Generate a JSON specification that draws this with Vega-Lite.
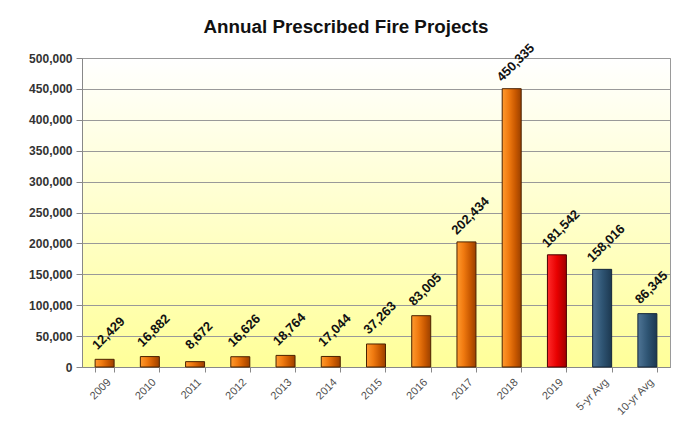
{
  "$schema": "https://vega.github.io/schema/vega-lite/v6.json",
  "width": 588,
  "height": 309,
  "autosize": {"type": "none"},
  "padding": {"left": 82, "top": 58, "right": 11, "bottom": 65},
  "background": "white",
  "title": {
    "text": "Annual Prescribed Fire Projects",
    "font": "Liberation Sans",
    "fontSize": 18.8,
    "fontWeight": "bold",
    "color": "#111111",
    "anchor": "middle",
    "dx": -30,
    "offset": 5
  },
  "config": {
    "view": {
      "stroke": "#9a9a9a",
      "strokeWidth": 1,
      "fill": {
        "gradient": "linear",
        "x1": 0, "y1": 0, "x2": 0, "y2": 1,
        "stops": [
          {"offset": 0, "color": "#ffffff"},
          {"offset": 1, "color": "#ffff99"}
        ]
      }
    },
    "font": "Liberation Sans"
  },
  "data": {
    "values": [
      {"cat": "2009", "acres": 12429, "kind": "year"},
      {"cat": "2010", "acres": 16882, "kind": "year"},
      {"cat": "2011", "acres": 8672, "kind": "year"},
      {"cat": "2012", "acres": 16626, "kind": "year"},
      {"cat": "2013", "acres": 18764, "kind": "year"},
      {"cat": "2014", "acres": 17044, "kind": "year"},
      {"cat": "2015", "acres": 37263, "kind": "year"},
      {"cat": "2016", "acres": 83005, "kind": "year"},
      {"cat": "2017", "acres": 202434, "kind": "year"},
      {"cat": "2018", "acres": 450335, "kind": "year"},
      {"cat": "2019", "acres": 181542, "kind": "current"},
      {"cat": "5-yr Avg", "acres": 158016, "kind": "avg"},
      {"cat": "10-yr Avg", "acres": 86345, "kind": "avg"}
    ]
  },
  "encoding": {
    "x": {
      "field": "cat",
      "type": "nominal",
      "sort": null,
      "title": null,
      "scale": {"paddingInner": 0.58, "paddingOuter": 0.29},
      "axis": {
        "labelAngle": -45,
        "labelAlign": "right",
        "labelBaseline": "top",
        "labelFontSize": 11,
        "labelColor": "#505050",
        "labelPadding": 4,
        "tickBand": "extent",
        "tickSize": 5,
        "tickColor": "#888888",
        "domainColor": "#888888"
      }
    },
    "y": {
      "field": "acres",
      "type": "quantitative",
      "title": null,
      "scale": {"domain": [0, 500000], "nice": false},
      "axis": {
        "values": [0, 50000, 100000, 150000, 200000, 250000, 300000, 350000, 400000, 450000, 500000],
        "format": ",d",
        "labelFontSize": 12,
        "labelFontWeight": "bold",
        "labelColor": "#333333",
        "labelPadding": 4,
        "tickSize": 6,
        "tickColor": "#888888",
        "domainColor": "#888888",
        "gridColor": "#999999",
        "gridOpacity": 1
      }
    }
  },
  "layer": [
    {
      "transform": [{"filter": "datum.kind === 'year'"}],
      "mark": {
        "type": "bar",
        "stroke": "#4a2200",
        "strokeWidth": 1,
        "color": {
          "gradient": "linear",
          "x1": 0, "y1": 0, "x2": 1, "y2": 0,
          "stops": [
            {"offset": 0, "color": "#ff9a2e"},
            {"offset": 0.35, "color": "#f07a10"},
            {"offset": 0.7, "color": "#c85800"},
            {"offset": 1, "color": "#9a4000"}
          ]
        }
      }
    },
    {
      "transform": [{"filter": "datum.kind === 'current'"}],
      "mark": {
        "type": "bar",
        "stroke": "#4a0000",
        "strokeWidth": 1,
        "color": {
          "gradient": "linear",
          "x1": 0, "y1": 0, "x2": 1, "y2": 0,
          "stops": [
            {"offset": 0, "color": "#ff2a2a"},
            {"offset": 0.5, "color": "#e80000"},
            {"offset": 1, "color": "#a00000"}
          ]
        }
      }
    },
    {
      "transform": [{"filter": "datum.kind === 'avg'"}],
      "mark": {
        "type": "bar",
        "stroke": "#14263a",
        "strokeWidth": 1,
        "color": {
          "gradient": "linear",
          "x1": 0, "y1": 0, "x2": 1, "y2": 0,
          "stops": [
            {"offset": 0, "color": "#4f7596"},
            {"offset": 0.5, "color": "#2f5574"},
            {"offset": 1, "color": "#1c3850"}
          ]
        }
      }
    },
    {
      "mark": {
        "type": "text",
        "angle": -45,
        "align": "center",
        "baseline": "middle",
        "fontSize": 13,
        "fontWeight": "bold",
        "color": "#111111",
        "xOffset": 4,
        "yOffset": -26
      },
      "encoding": {
        "text": {"field": "acres", "type": "quantitative", "format": ",d"}
      }
    }
  ]
}
